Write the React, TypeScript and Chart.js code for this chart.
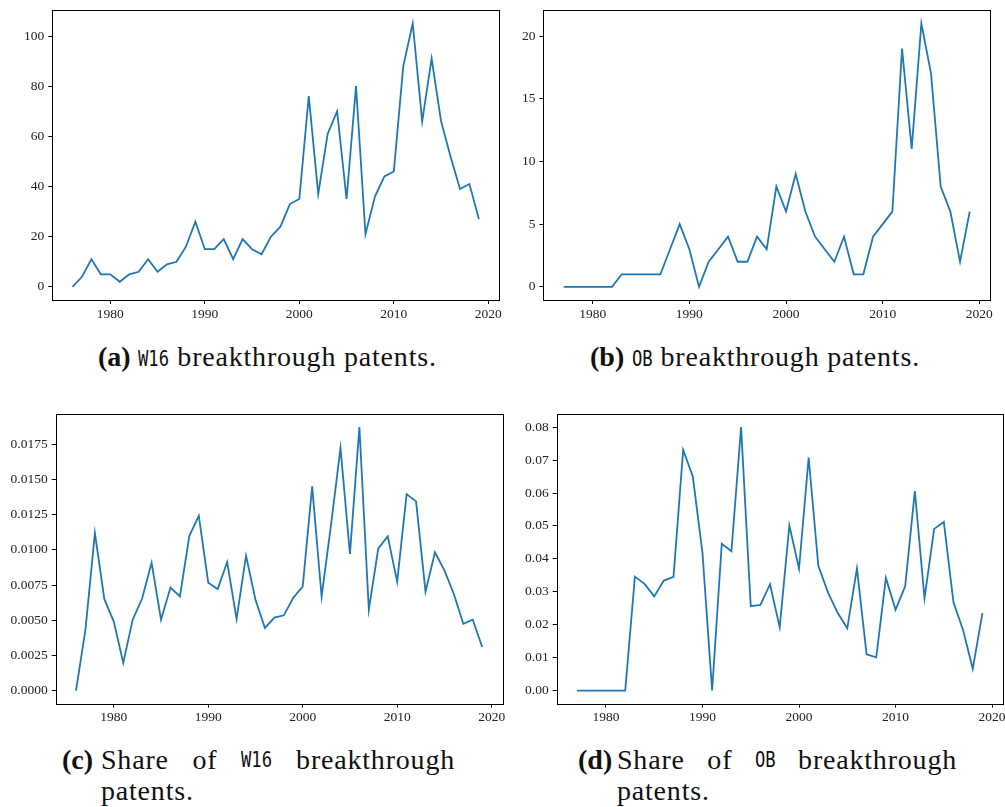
import React, { useEffect, useRef } from "react";
import { Chart, registerables } from "chart.js";

Chart.register(...registerables);
Chart.defaults.font.family = "'Liberation Serif', serif";

// Grant years for each series
const yearsW16 = [
  1976, 1977, 1978, 1979, 1980, 1981, 1982, 1983, 1984, 1985, 1986, 1987, 1988, 1989, 1990,
  1991, 1992, 1993, 1994, 1995, 1996, 1997, 1998, 1999, 2000, 2001, 2002, 2003, 2004, 2005,
  2006, 2007, 2008, 2009, 2010, 2011, 2012, 2013, 2014, 2015, 2016, 2017, 2018, 2019,
];
const yearsOB = [
  1977, 1978, 1979, 1980, 1981, 1982, 1983, 1984, 1985, 1986, 1987, 1988, 1989, 1990,
  1991, 1992, 1993, 1994, 1995, 1996, 1997, 1998, 1999, 2000, 2001, 2002, 2003, 2004, 2005,
  2006, 2007, 2008, 2009, 2010, 2011, 2012, 2013, 2014, 2015, 2016, 2017, 2018, 2019,
];

// (a) number of W16 breakthrough patents per year
const countW16 = [
  0, 4, 11, 5, 5, 2, 5, 6, 11, 6, 9, 10, 16, 26, 15,
  15, 19, 11, 19, 15, 13, 20, 24, 33, 35, 76, 37, 61, 70, 35,
  80, 21, 36, 44, 46, 88, 105, 66, 91, 66, 52, 39, 41, 27,
];
// (b) number of OB breakthrough patents per year
const countOB = [
  0, 0, 0, 0, 0, 0, 1, 1, 1, 1, 1, 3, 5, 3,
  0, 2, 3, 4, 2, 2, 4, 3, 8, 6, 9, 6, 4, 3, 2,
  4, 1, 1, 4, 5, 6, 19, 11, 21, 17, 8, 6, 2, 6,
];
// (c) share of W16 breakthrough patents
const shareW16 = [
  0.0, 0.00433, 0.0112, 0.0065, 0.0049, 0.00197, 0.00504, 0.00654, 0.00909, 0.00504,
  0.00732, 0.0067, 0.011, 0.01243, 0.00767, 0.00722, 0.00914, 0.00509, 0.00959, 0.00646,
  0.00445, 0.00519, 0.00535, 0.0066, 0.00739, 0.01452, 0.00668, 0.0118, 0.01724, 0.00971,
  0.01873, 0.00575, 0.01011, 0.01096, 0.00774, 0.01397, 0.01345, 0.00703, 0.00983, 0.00855,
  0.00687, 0.00474, 0.00504, 0.0031,
];
// (d) share of OB breakthrough patents
const shareOB = [
  0, 0, 0, 0, 0, 0, 0.0346, 0.0324, 0.0286, 0.0334, 0.0345, 0.0731, 0.065, 0.0418,
  0.0, 0.0446, 0.0423, 0.08, 0.0256, 0.026, 0.0323, 0.0192, 0.0501, 0.037, 0.0708,
  0.0379, 0.0298, 0.0236, 0.0189, 0.0371, 0.011, 0.0101, 0.0342, 0.0245, 0.0317,
  0.0606, 0.028, 0.0491, 0.0512, 0.0268, 0.0183, 0.0066, 0.0235,
];

const xTicks = [1980, 1990, 2000, 2010, 2020];
const yTicksA = [0, 20, 40, 60, 80, 100];
const yTicksB = [0, 5, 10, 15, 20];
const yTicksC = [0, 0.0025, 0.005, 0.0075, 0.01, 0.0125, 0.015, 0.0175];
const yTicksD = [0, 0.01, 0.02, 0.03, 0.04, 0.05, 0.06, 0.07, 0.08];

const LINE_BLUE = "#1f77b4";
const TICK_FONT = { family: "'Liberation Serif', serif", size: 13.5 };

// Draws the full axes frame around the plotting area
const framePlugin = {
  id: "frame",
  afterDraw(chart: any) {
    const { ctx, chartArea } = chart;
    ctx.save();
    ctx.strokeStyle = "#000";
    ctx.lineWidth = 1;
    const l = Math.round(chartArea.left) + 0.5;
    const t = Math.round(chartArea.top) + 0.5;
    const r = Math.round(chartArea.right) + 0.5;
    const b = Math.round(chartArea.bottom) + 0.5;
    ctx.strokeRect(l, t, r - l, b - t);
    ctx.restore();
  },
};

function padded(lo: number, hi: number) {
  const m = (hi - lo) * 0.05;
  return [lo - m, hi + m];
}

type PanelProps = {
  left: number;
  top: number;
  width: number;
  height: number;
  area: { l: number; t: number; r: number; b: number };
  years: number[];
  values: number[];
  yTicks: number[];
  decimals: number;
};

function Panel({ left, top, width, height, area, years, values, yTicks, decimals }: PanelProps) {
  const ref = useRef<HTMLCanvasElement | null>(null);

  useEffect(() => {
    if (!ref.current) return;
    const [xMin, xMax] = padded(years[0], years[years.length - 1]);
    const [yMin, yMax] = padded(Math.min(...values), Math.max(...values));
    const axisGrid = {
      display: true,
      drawOnChartArea: false,
      drawTicks: true,
      tickLength: 4,
      color: "#000",
      lineWidth: 1,
    };
    const chart = new Chart(ref.current, {
      type: "line",
      data: {
        datasets: [
          {
            data: years.map((y, i) => ({ x: y, y: values[i] })),
            borderColor: LINE_BLUE,
            borderWidth: 1.8,
            pointRadius: 0,
            tension: 0,
            fill: false,
          },
        ],
      },
      options: {
        animation: false,
        responsive: false,
        devicePixelRatio: 1,
        events: [],
        layout: { padding: { top: area.t, right: width - area.r, left: 0, bottom: 0 } },
        plugins: { legend: { display: false }, tooltip: { enabled: false } },
        scales: {
          x: {
            type: "linear",
            min: xMin,
            max: xMax,
            afterBuildTicks: (s: any) => {
              s.ticks = xTicks.map((v) => ({ value: v }));
            },
            afterFit: (s: any) => {
              s.height = height - area.b;
              s.paddingLeft = 0;
              s.paddingRight = 0;
            },
            grid: axisGrid,
            border: { display: false },
            ticks: {
              font: TICK_FONT,
              color: "#222",
              padding: 2,
              maxRotation: 0,
              autoSkip: false,
              callback: (v: any) => String(Math.round(Number(v))),
            },
          },
          y: {
            type: "linear",
            min: yMin,
            max: yMax,
            afterBuildTicks: (s: any) => {
              s.ticks = yTicks.map((v) => ({ value: v }));
            },
            afterFit: (s: any) => {
              s.width = area.l;
              s.paddingTop = 0;
              s.paddingBottom = 0;
            },
            grid: axisGrid,
            border: { display: false },
            ticks: {
              font: TICK_FONT,
              color: "#222",
              padding: 4,
              autoSkip: false,
              callback: (v: any) => Number(v).toFixed(decimals),
            },
          },
        },
      },
      plugins: [framePlugin],
    });
    return () => chart.destroy();
  }, []);

  return (
    <canvas
      ref={ref}
      width={width}
      height={height}
      style={{ position: "absolute", left, top, width, height }}
    />
  );
}

const captionFont = "'Liberation Serif', serif";

function Mono({ text }: { text: string }) {
  return (
    <span
      style={{
        display: "inline-block",
        fontFamily: "'DejaVu Sans Mono', monospace",
        fontSize: 22,
        letterSpacing: 0,
        transform: "scaleX(0.78)",
        transformOrigin: "left",
        marginRight: -2.9 * text.length,
      }}
    >
      {text}
    </span>
  );
}

function Caption({
  left,
  top,
  label,
  code,
}: {
  left: number;
  top: number;
  label: string;
  code: string;
}) {
  return (
    <div
      style={{
        position: "absolute",
        left,
        top,
        fontFamily: captionFont,
        fontSize: 28,
        letterSpacing: 0.8,
        whiteSpace: "nowrap",
        color: "#111",
      }}
    >
      <b style={{ letterSpacing: 0 }}>({label})</b> <Mono text={code} /> breakthrough patents.
    </div>
  );
}

function ShareCaption({
  left,
  top,
  label,
  code,
  width,
}: {
  left: number;
  top: number;
  label: string;
  code: string;
  width: number;
}) {
  return (
    <div
      style={{
        position: "absolute",
        left,
        top,
        fontFamily: captionFont,
        fontSize: 28,
        letterSpacing: 0.8,
        color: "#111",
        lineHeight: "31px",
      }}
    >
      <div style={{ display: "flex", width, whiteSpace: "nowrap" }}>
        <b style={{ width: 39, letterSpacing: 0 }}>({label})</b>
        <div style={{ flex: 1, display: "flex", justifyContent: "space-between" }}>
          <span>Share</span>
          <span>of</span>
          <Mono text={code} />
          <span>breakthrough</span>
        </div>
      </div>
      <div style={{ paddingLeft: 39 }}>patents.</div>
    </div>
  );
}

export default function App() {
  return (
    <div
      style={{
        position: "absolute",
        left: 0,
        top: 0,
        width: 1005,
        height: 807,
        background: "#fff",
        overflow: "hidden",
      }}
    >
      <Panel
        left={0}
        top={0}
        width={505}
        height={330}
        area={{ l: 52.2, t: 10.3, r: 499.2, b: 300 }}
        years={yearsW16}
        values={countW16}
        yTicks={yTicksA}
        decimals={0}
      />
      <Panel
        left={505}
        top={0}
        width={500}
        height={330}
        area={{ l: 38.4, t: 10.3, r: 485, b: 300 }}
        years={yearsOB}
        values={countOB}
        yTicks={yTicksB}
        decimals={0}
      />
      <Panel
        left={0}
        top={400}
        width={505}
        height={330}
        area={{ l: 55.7, t: 14, r: 502.5, b: 303.7 }}
        years={yearsW16}
        values={shareW16}
        yTicks={yTicksC}
        decimals={4}
      />
      <Panel
        left={505}
        top={400}
        width={500}
        height={330}
        area={{ l: 51.7, t: 14, r: 497.7, b: 303.7 }}
        years={yearsOB}
        values={shareOB}
        yTicks={yTicksD}
        decimals={2}
      />
      <Caption left={98} top={341} label="a" code="W16" />
      <Caption left={590} top={341} label="b" code="OB" />
      <ShareCaption left={62} top={744} label="c" code="W16" width={393} />
      <ShareCaption left={578} top={744} label="d" code="OB" width={379} />
    </div>
  );
}
